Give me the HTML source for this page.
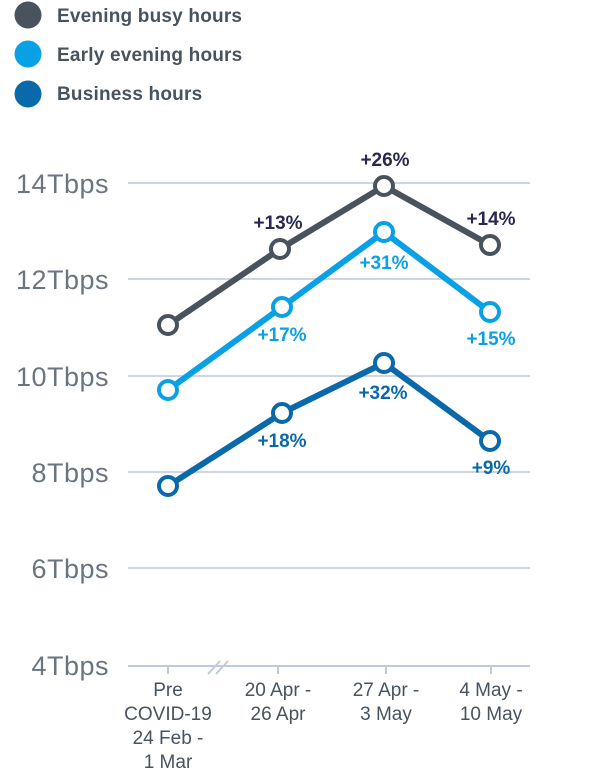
<!DOCTYPE html>
<html><head><meta charset="utf-8"><style>
html,body{margin:0;padding:0;background:#fff;width:600px;height:770px;overflow:hidden}
text{font-family:"Liberation Sans",sans-serif}
</style></head><body>
<svg width="600" height="770" xmlns="http://www.w3.org/2000/svg">
<circle cx="28" cy="15" r="13.5" fill="#48535e"/>
<circle cx="28" cy="54" r="13.5" fill="#0aa0e6"/>
<circle cx="28" cy="94" r="13.5" fill="#0a69aa"/>
<g font-size="19" fill="#48535e" font-weight="bold" letter-spacing="0.2">
<text x="57" y="22">Evening busy hours</text>
<text x="57" y="61">Early evening hours</text>
<text x="57" y="100">Business hours</text>
</g>
<g stroke="#ccd6e0" stroke-width="2">
<line x1="128" y1="183" x2="530" y2="183"/>
<line x1="128" y1="279" x2="530" y2="279"/>
<line x1="128" y1="376" x2="530" y2="376"/>
<line x1="128" y1="472" x2="530" y2="472"/>
<line x1="128" y1="568" x2="530" y2="568"/>
</g>
<g stroke="#bfcbd8" stroke-width="2">
<line x1="128" y1="666" x2="530" y2="666"/>
<line x1="168" y1="666" x2="168" y2="674"/>
<line x1="278" y1="666" x2="278" y2="674"/>
<line x1="386" y1="666" x2="386" y2="674"/>
<line x1="491" y1="666" x2="491" y2="674"/>
<line x1="208" y1="674" x2="220" y2="661"/>
<line x1="216" y1="674" x2="228" y2="661"/>
</g>
<g font-size="27" fill="#6b7580" text-anchor="end" letter-spacing="0.5">
<text x="109" y="193">14Tbps</text>
<text x="109" y="289">12Tbps</text>
<text x="109" y="386">10Tbps</text>
<text x="109" y="482">8Tbps</text>
<text x="109" y="578">6Tbps</text>
<text x="109" y="675">4Tbps</text>
</g>
<g font-size="19" fill="#48535e" text-anchor="middle">
<text x="168" y="696">Pre</text><text x="168" y="720">COVID-19</text><text x="168" y="744">24 Feb -</text><text x="168" y="768">1 Mar</text>
<text x="278" y="696">20 Apr -</text><text x="278" y="720">26 Apr</text>
<text x="386" y="696">27 Apr -</text><text x="386" y="720">3 May</text>
<text x="491" y="696">4 May -</text><text x="491" y="720">10 May</text>
</g>
<g fill="none" stroke-width="6" stroke-linejoin="round">
<polyline points="168,325 280,249 384,186 490,245" stroke="#48535e"/>
<polyline points="168,390 282,307 384,232 490,312" stroke="#0aa0e6"/>
<polyline points="168,486 282,413 384,363 490,441" stroke="#0a69aa"/>
</g>
<g fill="#fff" stroke-width="4">
<g stroke="#48535e"><circle cx="168" cy="325" r="9"/><circle cx="280" cy="249" r="9"/><circle cx="384" cy="186" r="9"/><circle cx="490" cy="245" r="9"/></g>
<g stroke="#0aa0e6"><circle cx="168" cy="390" r="9"/><circle cx="282" cy="307" r="9"/><circle cx="384" cy="232" r="9"/><circle cx="490" cy="312" r="9"/></g>
<g stroke="#0a69aa"><circle cx="168" cy="486" r="9"/><circle cx="282" cy="413" r="9"/><circle cx="384" cy="363" r="9"/><circle cx="490" cy="441" r="9"/></g>
</g>
<g font-size="19" font-weight="bold" text-anchor="middle">
<g fill="#2a2850"><text x="278" y="229">+13%</text><text x="385" y="166">+26%</text><text x="491" y="225">+14%</text></g>
<g fill="#0aa0e6"><text x="282" y="341">+17%</text><text x="384" y="269">+31%</text><text x="491" y="345">+15%</text></g>
<g fill="#0a69aa"><text x="282" y="447">+18%</text><text x="383" y="399">+32%</text><text x="491" y="474">+9%</text></g>
</g>
</svg>
</body></html>
